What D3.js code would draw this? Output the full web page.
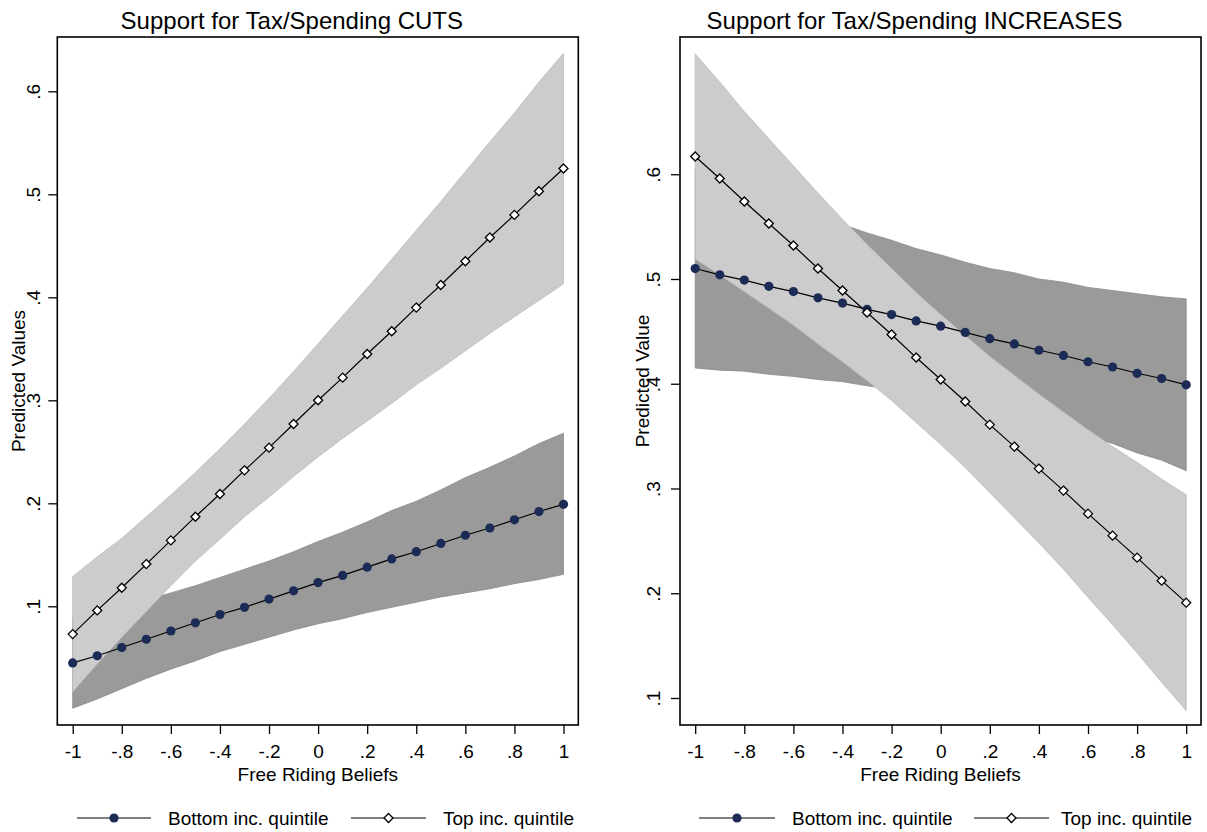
<!DOCTYPE html>
<html><head><meta charset="utf-8">
<script src="https://cdn.jsdelivr.net/npm/d3@7"></script>
<style>body{margin:0;background:#fff} text{font-family:"Liberation Sans",Arial,Helvetica,sans-serif;fill:#000}</style>
</head><body><svg id="c" width="1207" height="832"></svg>
<script>
const xVals = [-1,-0.9,-0.8,-0.7,-0.6,-0.5,-0.4,-0.3,-0.2,-0.1,0,0.1,0.2,0.3,0.4,0.5,0.6,0.7,0.8,0.9,1];

const cutsBottom   = [.045,.052,.060,.068,.076,.084,.092,.099,.107,.115,.123,.130,.138,.146,.153,.161,.169,.176,.184,.192,.199];
const cutsBottomLo = [.001,.010,.020,.030,.039,.047,.056,.063,.070,.077,.083,.088,.094,.099,.104,.109,.113,.117,.122,.126,.131];
const cutsBottomHi = [.089,.094,.100,.106,.113,.120,.128,.136,.144,.153,.163,.172,.182,.193,.202,.213,.225,.235,.246,.258,.268];
const cutsTop      = [.073,.096,.118,.141,.164,.187,.209,.232,.254,.277,.300,.322,.345,.367,.390,.412,.435,.458,.480,.503,.525];
const cutsTopLo    = [.017,.044,.070,.095,.120,.144,.165,.187,.206,.226,.245,.263,.280,.297,.315,.331,.348,.365,.381,.397,.413];
const cutsTopHi    = [.129,.148,.166,.187,.208,.230,.253,.277,.302,.328,.355,.382,.409,.437,.465,.493,.522,.551,.579,.609,.637];

const incBottom   = [.510,.504,.499,.493,.488,.482,.477,.471,.466,.460,.455,.449,.443,.438,.432,.427,.421,.416,.410,.405,.399];
const incBottomLo = [.415,.413,.412,.409,.407,.404,.402,.398,.395,.391,.387,.382,.376,.370,.364,.357,.350,.343,.334,.327,.317];
const incBottomHi = [.605,.595,.586,.577,.569,.560,.552,.544,.537,.529,.523,.516,.510,.506,.500,.497,.492,.489,.486,.483,.481];
const incTop      = [.617,.596,.574,.553,.532,.510,.489,.468,.447,.425,.404,.383,.361,.340,.319,.298,.276,.255,.234,.212,.191];
const incTopLo    = [.519,.504,.488,.472,.456,.438,.421,.403,.384,.363,.342,.320,.296,.272,.248,.223,.196,.170,.143,.115,.088];
const incTopHi    = [.715,.688,.660,.634,.608,.582,.557,.533,.510,.487,.466,.446,.426,.408,.390,.373,.356,.340,.325,.309,.294];

const xTickValues = [-1,-0.8,-0.6,-0.4,-0.2,0,0.2,0.4,0.6,0.8,1];
const xTickLabels = ["-1","-.8","-.6","-.4","-.2","0",".2",".4",".6",".8","1"];
const cutsYTicks = [.1,.2,.3,.4,.5,.6];
const cutsYTickLabels = [".1",".2",".3",".4",".5",".6"];
const incYTicks = [.1,.2,.3,.4,.5,.6];
const incYTickLabels = [".1",".2",".3",".4",".5",".6"];

const titles = ["Support for Tax/Spending CUTS","Support for Tax/Spending INCREASES"];
const yTitles = ["Predicted Values","Predicted Value"];
const xTitle = "Free Riding Beliefs";
const legendLabels = ["Bottom inc. quintile","Top inc. quintile"];

const NAVY = "#1c2b55", LIGHT = "#cccccc", LIGHT_EDGE = "#bdbdbd", DARK = "#9a9a9a", DARK_EDGE = "#8a8a8a";

const panels = [
  {left:57.3, right:578.3, top:37, bottom:725, xr:[72.7,563.5], yr:[606.3,91.3], yLabOff:-17.5, yTitleX:25,
   bottom_s:[cutsBottom,cutsBottomLo,cutsBottomHi], top_s:[cutsTop,cutsTopLo,cutsTopHi],
   yTicks:cutsYTicks, yTickLabels:cutsYTickLabels, title:titles[0], yTitle:yTitles[0],
   leg:{l1:[77,151], m1:114, t1:168, l2:[351,426], m2:388.5, t2:443}},
  {left:680, right:1201, top:37, bottom:725, xr:[695.2,1186.2], yr:[698,174.25], yLabOff:-20, yTitleX:649,
   bottom_s:[incBottom,incBottomLo,incBottomHi], top_s:[incTop,incTopLo,incTopHi],
   yTicks:incYTicks, yTickLabels:incYTickLabels, title:titles[1], yTitle:yTitles[1],
   leg:{l1:[699,775], m1:737, t1:792, l2:[974,1049], m2:1011.5, t2:1061}}
];

const svg = d3.select("#c");
const diamond = d3.symbol().type(d3.symbolDiamond2).size(52);

panels.forEach(p => {
  const x = d3.scaleLinear().domain([-1,1]).range(p.xr);
  const y = d3.scaleLinear().domain([0.1,0.6]).range(p.yr);
  const g = svg.append("g");
  const band = (lo,hi) => d3.area().x((d,i)=>x(xVals[i])).y0((d,i)=>y(lo[i])).y1((d,i)=>y(hi[i]))(xVals);
  const line = (v) => d3.line().x((d,i)=>x(xVals[i])).y((d,i)=>y(v[i]))(xVals);

  g.append("path").attr("d", band(p.bottom_s[1], p.bottom_s[2])).attr("fill", DARK).attr("stroke", DARK_EDGE).attr("stroke-width", 0.8);
  g.append("path").attr("d", band(p.top_s[1], p.top_s[2])).attr("fill", LIGHT).attr("stroke", LIGHT_EDGE).attr("stroke-width", 0.8);

  g.append("path").attr("d", line(p.bottom_s[0])).attr("fill","none").attr("stroke","#000").attr("stroke-width",1.2);
  g.append("path").attr("d", line(p.top_s[0])).attr("fill","none").attr("stroke","#000").attr("stroke-width",1.2);

  g.selectAll(".dot").data(p.bottom_s[0]).enter().append("circle")
    .attr("cx",(d,i)=>x(xVals[i])).attr("cy",d=>y(d)).attr("r",4.6).attr("fill",NAVY);
  g.selectAll(".dia").data(p.top_s[0]).enter().append("path")
    .attr("d", diamond).attr("transform",(d,i)=>`translate(${x(xVals[i])},${y(d)})`)
    .attr("fill","#fff").attr("stroke","#000").attr("stroke-width",1.3);

  // frame
  g.append("rect").attr("x",p.left).attr("y",p.top).attr("width",p.right-p.left).attr("height",p.bottom-p.top)
    .attr("fill","none").attr("stroke","#000").attr("stroke-width",1.6);

  // x axis
  const xa = g.append("g").attr("transform",`translate(0,${p.bottom})`)
    .call(d3.axisBottom(x).tickValues(xTickValues).tickFormat((d,i)=>xTickLabels[i]).tickSize(9).tickPadding(11));
  xa.select(".domain").remove();
  xa.selectAll("line").attr("stroke","#000").attr("stroke-width",1.3);
  xa.selectAll("text").attr("font-size","19px").attr("font-family",null).attr("fill","#000");

  // y axis
  const ya = g.append("g").attr("transform",`translate(${p.left},0)`)
    .call(d3.axisLeft(y).tickValues(p.yTicks).tickFormat((d,i)=>p.yTickLabels[i]).tickSize(9));
  ya.select(".domain").remove();
  ya.selectAll("line").attr("stroke","#000").attr("stroke-width",1.3);
  ya.selectAll("text").attr("font-size","19px").attr("font-family",null).attr("fill","#000")
    .attr("x",0).attr("dy",null).attr("y",p.yLabOff).attr("transform","rotate(-90)").attr("text-anchor","middle");

  const cx = (p.left+p.right)/2;
  g.append("text").attr("x",cx-26).attr("y",29).attr("text-anchor","middle").attr("font-size","24px").text(p.title);
  g.append("text").attr("x",cx).attr("y",781).attr("text-anchor","middle").attr("font-size","19px").text(xTitle);
  g.append("text").attr("transform",`translate(${p.yTitleX},381) rotate(-90)`).attr("text-anchor","middle").attr("font-size","19px").text(p.yTitle);

  // legend
  const ly = 818, L = p.leg;
  g.append("line").attr("x1",L.l1[0]).attr("x2",L.l1[1]).attr("y1",ly).attr("y2",ly).attr("stroke","#000").attr("stroke-width",1.2);
  g.append("circle").attr("cx",L.m1).attr("cy",ly).attr("r",4.6).attr("fill",NAVY);
  g.append("text").attr("x",L.t1).attr("y",ly+7).attr("font-size","19px").text(legendLabels[0]);
  g.append("line").attr("x1",L.l2[0]).attr("x2",L.l2[1]).attr("y1",ly).attr("y2",ly).attr("stroke","#000").attr("stroke-width",1.2);
  g.append("path").attr("d",diamond).attr("transform",`translate(${L.m2},${ly})`).attr("fill","#fff").attr("stroke","#000").attr("stroke-width",1.3);
  g.append("text").attr("x",L.t2).attr("y",ly+7).attr("font-size","19px").text(legendLabels[1]);
});
</script></body></html>
